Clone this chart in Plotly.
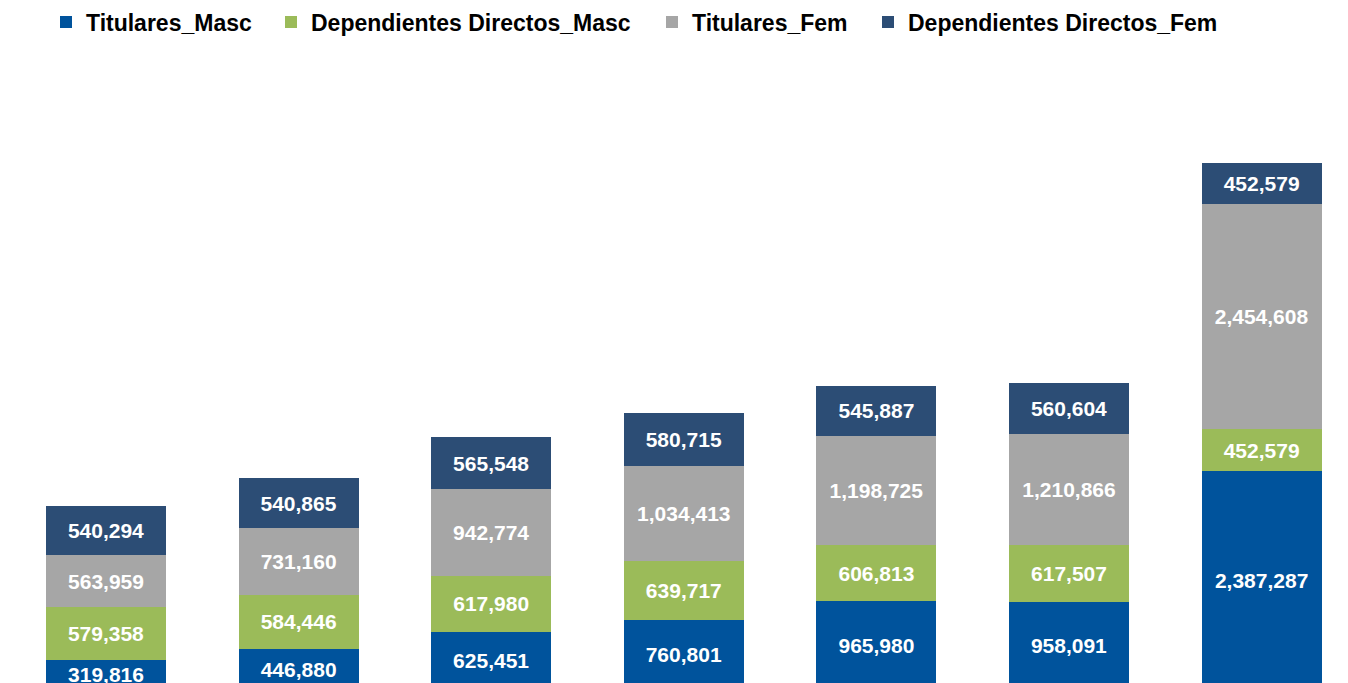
import plotly.graph_objects as go

categories = ["2017", "2018", "2019", "2020", "2021", "2022", "2023"]
titulares_masc = [319816, 446880, 625451, 760801, 965980, 958091, 2387287]
dependientes_masc = [579358, 584446, 617980, 639717, 606813, 617507, 452579]
titulares_fem = [563959, 731160, 942774, 1034413, 1198725, 1210866, 2454608]
dependientes_fem = [540294, 540865, 565548, 580715, 545887, 560604, 452579]

series = [
    ("Titulares_Masc", titulares_masc, "#00539C"),
    ("Dependientes Directos_Masc", dependientes_masc, "#9BBB59"),
    ("Titulares_Fem", titulares_fem, "#A6A6A6"),
    ("Dependientes Directos_Fem", dependientes_fem, "#2C4D75"),
]

FONT = "Liberation Sans, Arial, sans-serif"
W, H = 1340, 675          # page body has an 8px margin
PLOT_TOP = 52
PLOT_H = H - PLOT_TOP

legend_ids = ["legend", "legend2", "legend3", "legend4"]
square_left_page = [64, 289, 670, 886]

fig = go.Figure()
for (name, vals, color), lid in zip(series, legend_ids):
    fig.add_trace(go.Bar(
        x=categories, y=vals, name=name, legend=lid,
        marker=dict(color=color, line=dict(width=0)),
        width=0.623,
        texttemplate="%{y:,}",
        textposition="inside",
        insidetextanchor="middle",
        constraintext="none",
        textangle=0,
        textfont=dict(family=FONT, size=21, color="white", weight="bold"),
    ))

units_per_px = 10915.0
zero_px = 681.5  # figure px; the axis zero sits just below the visible plot bottom
ymin = (zero_px - H) * units_per_px
ymax = (zero_px - PLOT_TOP) * units_per_px

legend_common = dict(
    orientation="h", xanchor="left", yanchor="middle",
    y=1 + (PLOT_TOP - 14) / PLOT_H,
    font=dict(family=FONT, size=23, color="black", weight="bold"),
    bgcolor="rgba(0,0,0,0)", borderwidth=0,
)
legends = {}
for lid, sl in zip(legend_ids, square_left_page):
    origin = sl - 18 - 8
    legends[lid] = dict(legend_common, x=origin / W)

fig.update_layout(
    barmode="stack",
    width=W, height=H,
    margin=dict(l=0, r=0, t=PLOT_TOP, b=0, pad=0, autoexpand=False),
    paper_bgcolor="white", plot_bgcolor="white",
    showlegend=True,
    xaxis=dict(range=[-98 / 192.6, -98 / 192.6 + W / 192.6], showticklabels=False,
               showgrid=False, zeroline=False, showline=False, ticks=""),
    yaxis=dict(range=[ymin, ymax], showticklabels=False, showgrid=False,
               zeroline=False, showline=False, ticks=""),
    **legends,
)

fig.write_html("out.html")
